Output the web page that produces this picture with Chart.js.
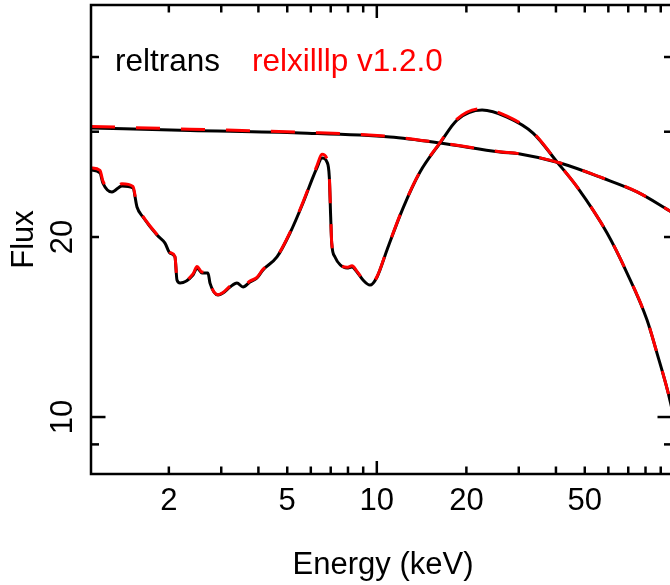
<!DOCTYPE html>
<html><head><meta charset="utf-8">
<script src="https://cdn.jsdelivr.net/npm/chart.js@4.4.1/dist/chart.umd.min.js"></script>
<style>
html,body{margin:0;padding:0;background:#fff;overflow:hidden}
#wrap{width:690px;height:585px}
</style></head><body>
<div id="wrap"><canvas id="c" width="690" height="585"></canvas></div>
<script>
// ---- data (energy in keV, flux in arbitrary units) ----
const contEnergy = [1.095, 2.356, 5.518, 11.08, 16.31, 25.95, 30.29, 41.29, 57.59, 74.92, 98.2];
const contFluxReltrans = [30.43, 30.14, 29.85, 29.39, 28.72, 27.74, 27.53, 26.59, 25.08, 23.79, 22.0];
const contFluxRelxill  = [30.62, 30.30, 29.95, 29.45, 28.74, 27.78, 27.55, 26.60, 25.10, 23.80, 22.0];

const reflEnergy = [1.095, 1.174, 1.201, 1.288, 1.391, 1.515, 1.563, 1.637, 1.825, 1.941,
  2.018, 2.097, 2.130, 2.181, 2.411, 2.487, 2.585, 2.708, 2.750, 2.926,
  3.041, 3.211, 3.389, 3.551, 3.748, 3.956, 4.145, 4.618, 5.108, 5.648,
  6.103, 6.281, 6.543, 6.802, 6.924, 6.998, 7.053, 7.234, 7.541, 7.942,
  8.255, 8.579, 8.987, 9.486, 10.02, 10.82, 12.25, 13.97, 16.31, 18.60,
  22.58, 27.39, 33.50, 40.34, 47.10, 59.40, 69.34,
  80.95, 87.47, 95.24, 98.2];
const reflFluxReltrans = [25.88, 25.59, 24.62, 23.79, 24.35, 24.16, 22.45, 21.60, 20.15, 19.54,
  18.80, 18.52, 16.95, 16.75, 17.28, 17.75, 17.41, 17.41, 16.75, 16.00,
  16.12, 16.50, 16.75, 16.50, 16.82, 17.08, 17.62, 18.52, 20.31, 22.80,
  25.19, 26.04, 27.11, 26.69, 25.19, 21.60, 19.54, 18.52, 17.96, 17.75,
  17.82, 17.48, 16.95, 16.62, 17.15, 19.03, 22.36, 25.69, 28.72, 31.38,
  32.61, 31.74, 29.85, 26.70, 24.25, 20.31, 17.41,
  14.53, 12.78, 11.00, 10.30];
const reflFluxRelxill = [26.10, 25.85, 24.80, 23.90, 24.55, 24.30, 22.55, 21.65, 20.20, 19.58,
  18.85, 18.55, 16.98, 16.78, 17.35, 17.85, 17.48, 17.45, 16.78, 16.02,
  16.15, 16.55, 16.80, 16.55, 16.88, 17.12, 17.66, 18.56, 20.36, 22.88,
  25.30, 26.25, 27.50, 27.00, 25.40, 21.70, 19.60, 18.56, 17.98, 17.80,
  17.90, 17.52, 16.98, 16.64, 17.18, 19.06, 22.40, 25.72, 28.78, 31.50,
  32.80, 31.86, 29.90, 26.72, 24.26, 20.32, 17.42,
  14.54, 12.78, 11.00, 10.30];

const seriesNames = ['reltrans', 'relxilllp v1.2.0'];
const xTickLabels = [2, 5, 10, 20, 50];
const xTickMarks = [2, 3, 4, 5, 6, 7, 8, 9, 10, 20, 30, 40, 50, 60, 70, 80, 90];
const yTickLabels = [10, 20];
const yTickMarks = [9, 10, 20, 30, 40];
const xTitle = 'Energy (keV)';
const yTitle = 'Flux';

const pts = (xs, ys) => xs.map((v, i) => ({x: v, y: ys[i]}));
const FONT = '31px "Liberation Sans", Arial, Helvetica, sans-serif';
const LEGEND_FONT = '31.5px "Liberation Sans", Arial, Helvetica, sans-serif';

const rAxes = {
  id: 'rAxes',
  afterDraw(chart) {
    const {ctx, chartArea: a, scales: {x, y}} = chart;
    ctx.save();
    ctx.strokeStyle = '#000';
    ctx.lineWidth = 2.5;
    ctx.strokeRect(a.left, a.top, a.right - a.left, a.bottom - a.top);
    const seg = (x1, y1, x2, y2) => { ctx.beginPath(); ctx.moveTo(x1, y1); ctx.lineTo(x2, y2); ctx.stroke(); };
    xTickMarks.forEach(v => {
      const px = x.getPixelForValue(v);
      const len = (v === 10 || v === 100) ? 13 : 7.5;
      seg(px, a.bottom, px, a.bottom - len);
      seg(px, a.top, px, a.top + len);
    });
    yTickMarks.forEach(v => {
      const py = y.getPixelForValue(v);
      const len = (v === 10) ? 14.5 : 8;
      seg(a.left, py, a.left + len, py);
      seg(a.right, py, a.right - len, py);
    });
    ctx.fillStyle = '#000';
    ctx.font = FONT;
    ctx.textAlign = 'center';
    ctx.textBaseline = 'alphabetic';
    xTickLabels.forEach(v => ctx.fillText(String(v), x.getPixelForValue(v), 510));
    ctx.fillText(xTitle, (a.left + a.right) / 2 + 1.5, 574);
    yTickLabels.forEach(v => {
      ctx.save();
      ctx.translate(72, y.getPixelForValue(v));
      ctx.rotate(-Math.PI / 2);
      ctx.fillText(String(v), 0, 0);
      ctx.restore();
    });
    ctx.save();
    ctx.translate(33, (a.top + a.bottom) / 2);
    ctx.rotate(-Math.PI / 2);
    ctx.fillText(yTitle, 0, 0);
    ctx.restore();
    ctx.font = LEGEND_FONT;
    ctx.textAlign = 'left';
    ctx.fillStyle = '#000';
    ctx.fillText(seriesNames[0], 115, 71);
    ctx.fillStyle = '#ff0000';
    ctx.fillText(seriesNames[1], 252, 71);
    ctx.restore();
  }
};

const blackStyle = {borderColor: '#000', borderWidth: 3, pointRadius: 0, fill: false,
  cubicInterpolationMode: 'monotone', borderCapStyle: 'round', borderJoinStyle: 'round', order: 2};
const redStyle = {borderColor: '#ff0000', borderWidth: 3, pointRadius: 0, fill: false,
  cubicInterpolationMode: 'monotone', borderDash: [24, 21], borderCapStyle: 'butt', order: 1};

new Chart(document.getElementById('c'), {
  type: 'line',
  data: {
    datasets: [
      Object.assign({label: seriesNames[0] + ' continuum', data: pts(contEnergy, contFluxReltrans)}, blackStyle),
      Object.assign({label: seriesNames[0] + ' reflection', data: pts(reflEnergy, reflFluxReltrans)}, blackStyle),
      Object.assign({label: seriesNames[1] + ' continuum', data: pts(contEnergy, contFluxRelxill)}, redStyle),
      Object.assign({label: seriesNames[1] + ' reflection', data: pts(reflEnergy, reflFluxRelxill)}, redStyle)
    ]
  },
  options: {
    responsive: false,
    animation: false,
    devicePixelRatio: 1,
    layout: {padding: {left: 91, top: 5, right: 18, bottom: 111}},
    scales: {
      x: {type: 'logarithmic', min: 1.095, max: 98.2, display: false},
      y: {type: 'logarithmic', min: 8.03, max: 48.87, display: false}
    },
    plugins: {legend: {display: false}, tooltip: {enabled: false}}
  },
  plugins: [rAxes]
});
</script>
</body></html>
